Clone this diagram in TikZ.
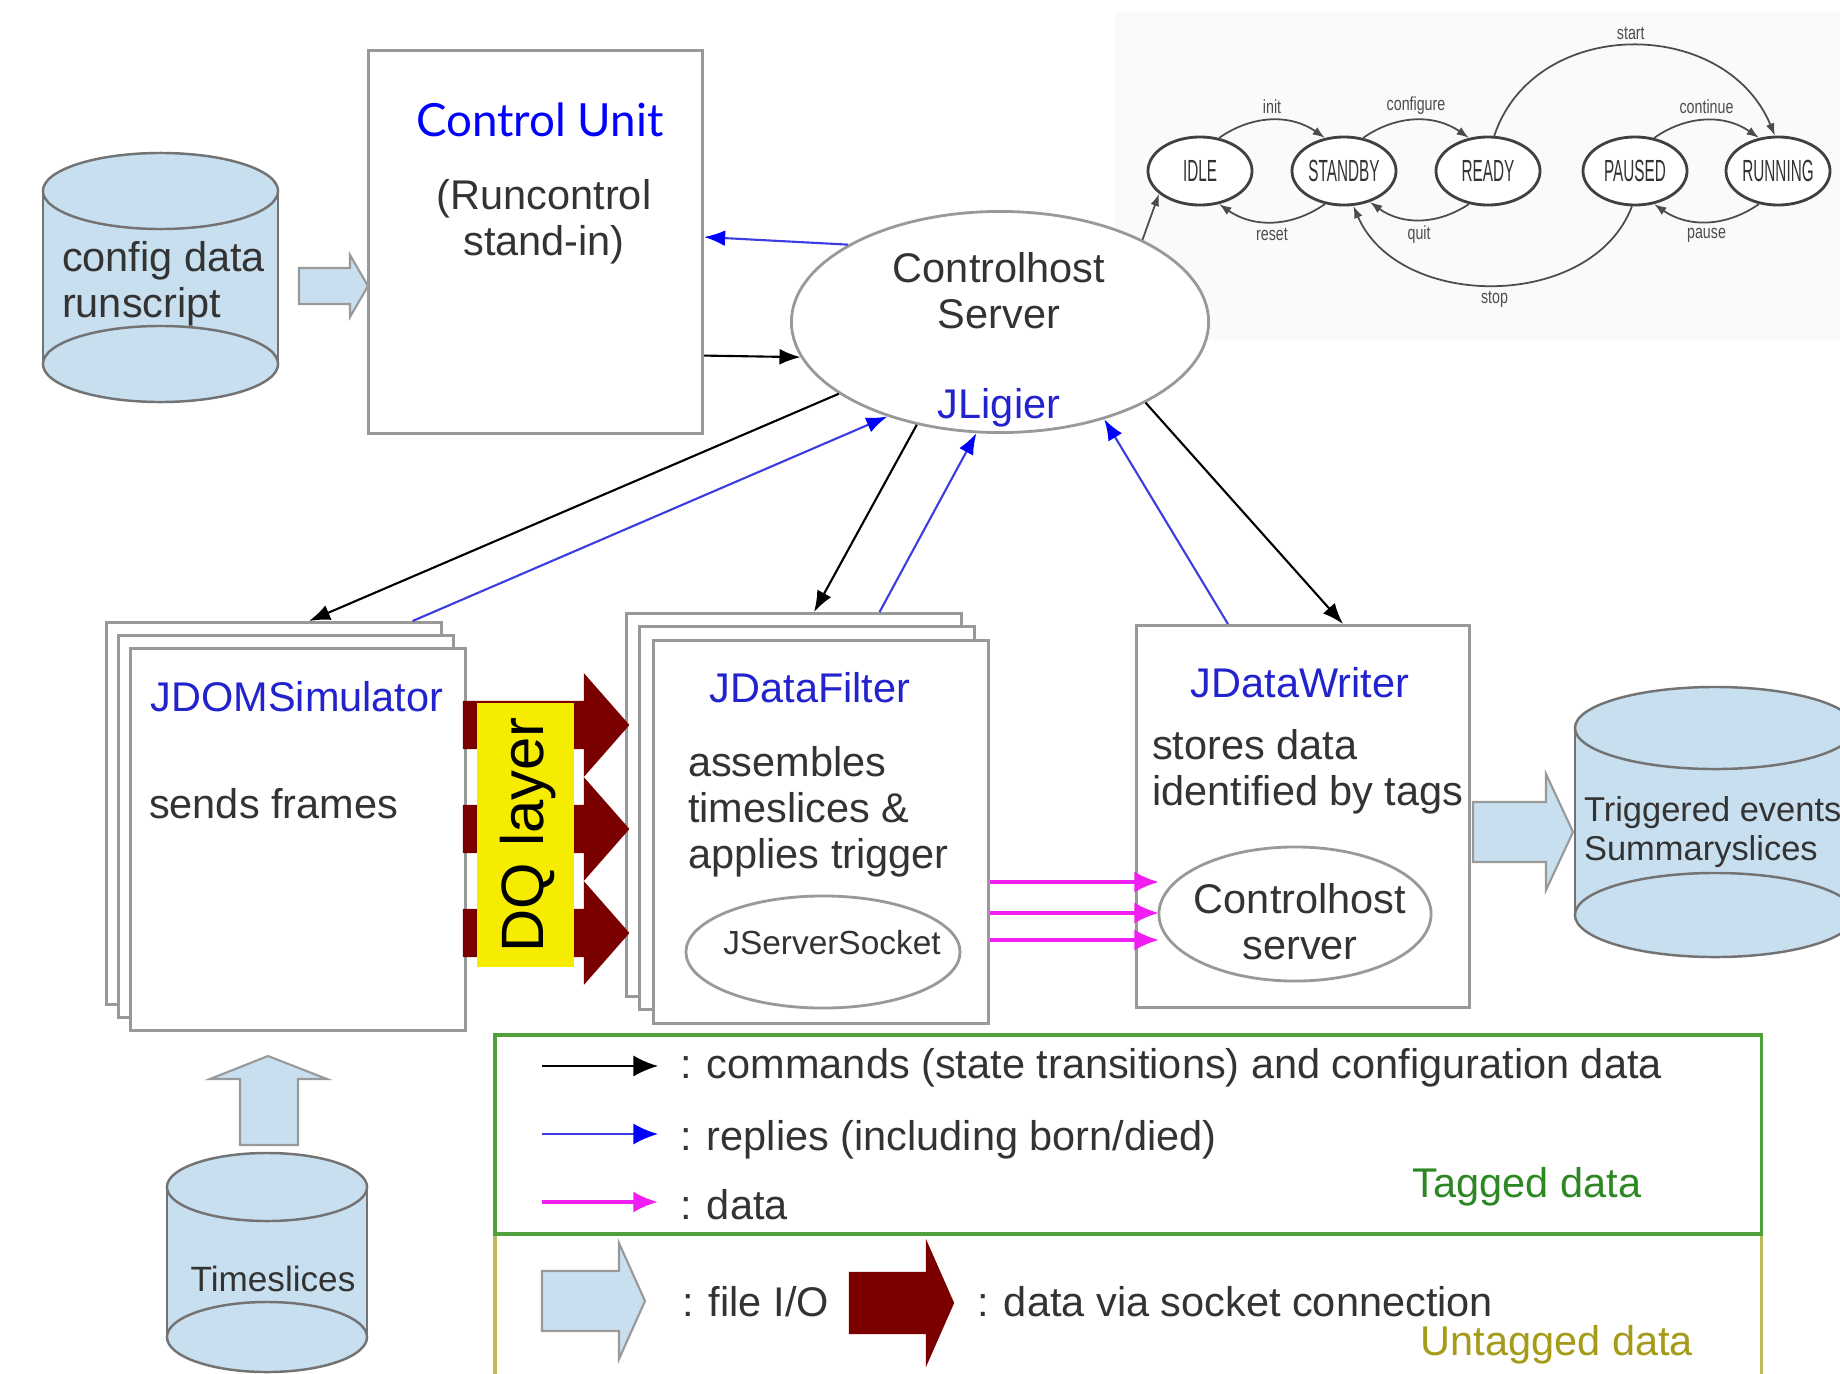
\documentclass[tikz,border=0pt]{standalone}
\usepackage{fontspec}
\setmainfont{Liberation Sans}
\newfontfamily\statefont[FakeStretch=0.5]{Liberation Sans}
\newfontfamily\labelfont[FakeStretch=0.75]{Liberation Sans}
\newfontfamily\unitfont{Lato}
\usetikzlibrary{shapes.geometric,arrows.meta}
\definecolor{fileblue}{RGB}{200,223,240}
\definecolor{sockred}{RGB}{122,0,0}
\definecolor{dqyellow}{RGB}{246,236,0}
\definecolor{nameblue}{RGB}{35,35,205}
\definecolor{replyblue}{RGB}{60,60,225}
\definecolor{datapink}{RGB}{240,30,240}
\definecolor{tagged}{RGB}{45,135,35}
\definecolor{untagged}{RGB}{165,155,25}
\definecolor{tagframe}{RGB}{80,160,60}
\definecolor{untagframe}{RGB}{190,185,95}
% block arrow: style, x start, x head, x tip, y centre, body half, head half
\newcommand{\blockarrow}[7]{\filldraw[#1] (#2,#5-#6) -- (#3,#5-#6) -- (#3,#5-#7) -- (#4,#5) -- (#3,#5+#7) -- (#3,#5+#6) -- (#2,#5+#6) -- cycle;}

\begin{document}
\begin{tikzpicture}[x=0.01cm, y=-0.01cm, line width=0.6pt, >={Latex[length=6pt,width=4.5pt]}]
        \tikzstyle{procbox}=[draw=black!40, fill=white, line width=0.8pt, anchor=north west, inner sep=0pt, minimum width=3.35cm, minimum height=3.82cm];
        \tikzstyle{txt}=[font={\fontsize{11.8}{13.1}\selectfont}, text=black!80, inner sep=0pt];
        \tikzstyle{procname}=[txt, text=nameblue];
        \tikzstyle{srvell}=[ellipse, draw=black!40, fill=white, line width=0.8pt, inner sep=0pt];
        \tikzstyle{drumline}=[draw=black!55, line width=0.7pt];
        \tikzstyle{filearrow}=[fill=fileblue, draw=black!40, line width=0.6pt];
        \tikzstyle{sockarrow}=[fill=sockred, draw=sockred];
        \tikzstyle{cmdlink}=[->, draw=black];
        \tikzstyle{replylink}=[->, >={Latex[length=6pt,width=4.5pt,color=blue]}, draw=replyblue];
        \tikzstyle{datalink}=[->, draw=datapink, line width=1pt, >={Latex[length=7pt,width=6pt]}];
        \tikzstyle{fsmstate}=[ellipse, draw=black!75, line width=0.8pt, fill=white, minimum width=1.04cm, minimum height=0.68cm, inner sep=0pt, font={\statefont\fontsize{8.7}{9}\selectfont}, text=black!80];
        \tikzstyle{fsmedge}=[->, >={Latex[length=3.5pt,width=2.5pt]}, draw=black!70, line width=0.5pt];
        \tikzstyle{fsmlabel}=[font={\labelfont\fontsize{5.4}{6}\selectfont}, text=black!70, inner sep=1.5pt];

        \useasboundingbox (0,0) rectangle (1840,1373);
        \fill[white] (0,0) rectangle (1840,1373);
        \fill[black!2] (1115,12) rectangle (1840,340);

        % data stores
        \fill[fileblue] (43,191) rectangle (278,364);
        \filldraw[fill=fileblue, drumline] (160.5,364) ellipse[x radius=1.175cm, y radius=0.38cm];
        \draw[drumline] (43,191) -- (43,364) (278,191) -- (278,364);
        \filldraw[fill=fileblue, drumline] (160.5,191) ellipse[x radius=1.175cm, y radius=0.38cm];
        \node[txt, anchor=west, align=left] (cfgtxt) at (61,284) {config data\\runscript};

        \fill[fileblue] (1575,728) rectangle (1855,915);
        \filldraw[fill=fileblue, drumline] (1715,915) ellipse[x radius=1.4cm, y radius=0.42cm];
        \draw[drumline] (1575,728) -- (1575,915);
        \filldraw[fill=fileblue, drumline] (1715,728) ellipse[x radius=1.4cm, y radius=0.41cm];
        \node[txt, font={\fontsize{9.8}{11.2}\selectfont}, anchor=west, align=left] (trigtxt) at (1583,832) {Triggered events\\Summaryslices};

        \fill[fileblue] (167,1187) rectangle (367,1337);
        \filldraw[fill=fileblue, drumline] (267,1337) ellipse[x radius=1.0cm, y radius=0.35cm];
        \draw[drumline] (167,1187) -- (167,1337) (367,1187) -- (367,1337);
        \filldraw[fill=fileblue, drumline] (267,1187) ellipse[x radius=1.0cm, y radius=0.34cm];
        \node[txt, font={\fontsize{10}{12}\selectfont}] (tstxt) at (273,1279) {Timeslices};

        % file I/O arrows
        \blockarrow{filearrow}{299}{350}{368}{286}{18}{31}
        \filldraw[filearrow] (240,1145) -- (240,1079) -- (210,1079) -- (268,1056) -- (327,1079) -- (298,1079) -- (298,1145) -- cycle;

        % processes
        \node[procbox, minimum width=3.34cm, minimum height=3.83cm] (cu) at (367,49) {};
        \node[font={\unitfont\fontsize{13}{15}\selectfont}, text=blue, inner sep=0pt] (cuname) at (540,120) {Control Unit};
        \node[txt, align=center] (cutxt) at (544,222) {(Runcontrol\\stand-in)};

        \node[procbox] (simback) at (105,621) {};
        \node[procbox] (simmid) at (117,634) {};
        \node[procbox] (sim) at (129,647) {};
        \node[procname] (simname) at (297,697) {JDOMSimulator};
        \node[txt, anchor=west] (simtxt) at (148,804) {sends frames};

        \node[procbox, minimum height=3.83cm] (filtback) at (625,612) {};
        \node[procbox, minimum height=3.83cm] (filtmid) at (638,625) {};
        \node[procbox, minimum height=3.83cm] (filt) at (652,639) {};
        \node[procname] (filtname) at (810,688) {JDataFilter};
        \node[txt, anchor=west, align=left] (filttxt) at (687,812) {assembles\\timeslices \&\\applies trigger};
        \node[srvell, minimum width=2.74cm, minimum height=1.12cm] (sock) at (823,952) {};
        \node[txt, font={\fontsize{9.5}{11}\selectfont}] (socktxt) at (832,943) {JServerSocket};

        \node[procbox, minimum width=3.33cm] (writ) at (1135,624) {};
        \node[procname] (writname) at (1300,683) {JDataWriter};
        \node[txt, anchor=west, align=left] (writtxt) at (1151,772) {stores data\\identified by tags};
        \node[srvell, minimum width=2.72cm, minimum height=1.34cm] (chs2) at (1295,914) {};
        \node[txt, align=center] (chs2txt) at (1300,922) {Controlhost\\server};

        \blockarrow{filearrow}{1473}{1546}{1573}{832}{30}{58}

        % control host
        \node[srvell, minimum width=4.17cm, minimum height=2.21cm] (chs) at (1000,322) {};
        \node[txt, align=center] (chstxt) at (999,291) {Controlhost\\Server};
        \node[procname] (lig) at (999,408) {JLigier};

        % state machine
        \foreach \nm/\lbl/\x in {idle/IDLE/1200, standby/STANDBY/1344, ready/READY/1488, paused/PAUSED/1635, running/RUNNING/1778}
            \node[fsmstate] (\nm) at (\x,171) {\lbl};
        \draw[fsmedge] (idle.60) to[bend left=35] node[fsmlabel, above] (linit) {init} (standby.120);
        \draw[fsmedge] (standby.240) to[bend left=35] node[fsmlabel, below] (lreset) {reset} (idle.300);
        \draw[fsmedge] (standby.60) to[bend left=35] node[fsmlabel, above] (lconf) {configure} (ready.120);
        \draw[fsmedge] (ready.240) to[bend left=35] node[fsmlabel, below] (lquit) {quit} (standby.310);
        \draw[fsmedge] (paused.60) to[bend left=35] node[fsmlabel, above] (lcont) {continue} (running.120);
        \draw[fsmedge] (running.240) to[bend left=35] node[fsmlabel, below] (lpause) {pause} (paused.300);
        \draw[fsmedge] (ready.80) .. controls +(40,-120) and +(-50,-120) .. (running.95) node[fsmlabel, above, pos=0.5] (lstart) {start};
        \draw[fsmedge] (paused.265) .. controls +(-40,105) and +(45,105) .. (standby.285) node[fsmlabel, below, pos=0.5] (lstop) {stop};
        \draw[fsmedge] (chs.30) -- (idle.209);

        % commands and replies
        \draw[replylink] (chs.153) -- ([yshift=0.05cm]cu.east);
        \draw[cmdlink] ([yshift=-1.135cm]cu.east) -- (chs.190);
        \draw[cmdlink] (chs.204) -- ([xshift=0.35cm]simback.north);
        \draw[replylink] ([xshift=1.385cm]simback.north) -- (chs.220);
        \draw[cmdlink] (chs.231) -- ([xshift=0.2cm]filtback.north);
        \draw[replylink] ([xshift=0.855cm]filtback.north) -- (chs.258);
        \draw[replylink] ([xshift=-0.75cm]writ.north) -- (chs.317);
        \draw[cmdlink] (chs.331) -- ([xshift=0.4cm]writ.north);

        % tagged data
        \foreach \i/\y in {1/882, 2/913, 3/940} {
            \coordinate (dat\i) at (1159,\y);
            \draw[datalink] (filt.east |- dat\i) -- (dat\i);
        }

        % socket data and DQ layer
        \foreach \y in {725,829,933} {\blockarrow{sockarrow}{464}{585}{628}{\y}{23}{49}}
        \node[fill=dqyellow, minimum width=0.97cm, minimum height=2.64cm, inner sep=0pt] (dq) at (525.5,835) {};
        \node[rotate=90, font={\fontsize{17}{20}\selectfont}, inner sep=0pt] (dqtxt) at (528,835) {DQ layer};

        % legend
        \node[draw=untagframe, line width=1pt, anchor=north west, minimum width=12.66cm, minimum height=1.6cm, inner sep=0pt] (untagbox) at (493,1232) {};
        \node[draw=tagframe, line width=1pt, anchor=north west, minimum width=12.66cm, minimum height=1.99cm, inner sep=0pt] (tagbox) at (493,1033) {};
        \coordinate (lk0) at (542,1066); \coordinate (lk1) at (658,1066);
        \coordinate (lr0) at (542,1134); \coordinate (lr1) at (658,1134);
        \coordinate (ld0) at (542,1202); \coordinate (ld1) at (658,1202);
        \draw[cmdlink, >={Latex[length=7pt,width=6pt]}] (lk0) -- (lk1);
        \draw[replylink, >={Latex[length=7pt,width=6pt,color=blue]}] (lr0) -- (lr1);
        \draw[datalink] (ld0) -- (ld1);
        \node[txt, anchor=west] (lgcmd) at (679,1068) {: commands (state transitions) and configuration data};
        \node[txt, anchor=west] (lgrep) at (679,1140) {: replies (including born/died)};
        \node[txt, anchor=west] (lgdat) at (679,1205) {: data};
        \node[txt, text=tagged] (lgtag) at (1527,1187) {Tagged data};
        \blockarrow{filearrow}{542}{619}{645}{1301}{30}{58}
        \blockarrow{sockarrow}{850}{927}{953}{1303}{30}{59}
        \node[txt, anchor=west] (lgfile) at (681,1302) {: file I/O};
        \node[txt, anchor=west] (lgsock) at (976,1302) {: data via socket connection};
        \node[txt, text=untagged] (lguntag) at (1557,1345) {Untagged data};
\end{tikzpicture}
\end{document}
